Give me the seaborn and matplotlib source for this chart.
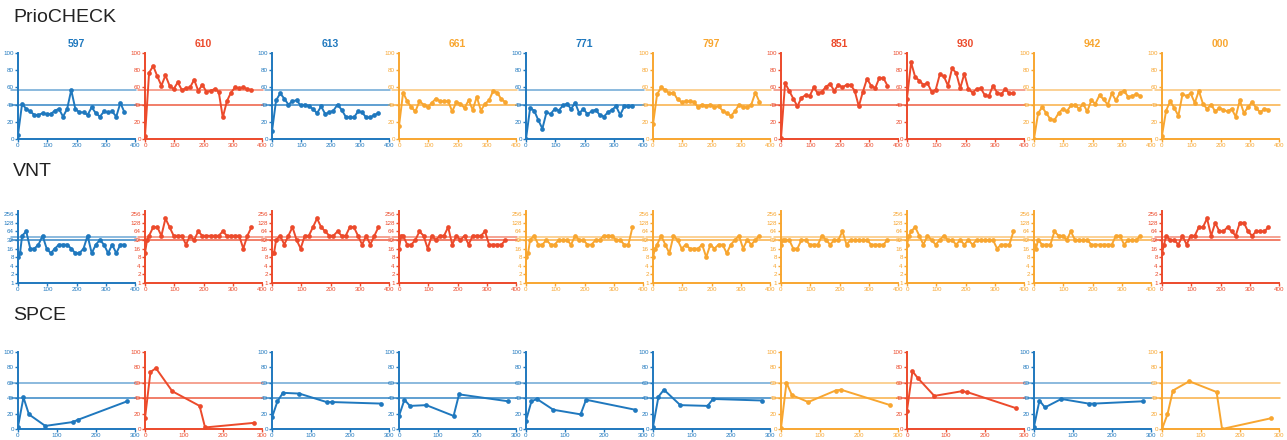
"""Antibody curves per animal: PrioCHECK, VNT and SPCE panels."""
import matplotlib
matplotlib.use("Agg")
import matplotlib.pyplot as plt
import seaborn as sns

BLUE = "#1f78be"
RED = "#ec4a2b"
ORANGE = "#f8a630"

animals = ["597", "610", "613", "661", "771", "797", "851", "930", "942", "000"]

# ---- PrioCHECK (% inhibition) ----
prio_days = [0, 14, 28, 42, 56, 70, 84, 98, 112, 126, 140, 154, 168, 182,
             196, 210, 224, 238, 252, 266, 280, 294, 308, 322, 336, 350, 364]
prio_colors = [BLUE, RED, BLUE, ORANGE, BLUE, ORANGE, RED, RED, ORANGE, ORANGE]
prio_cutoffs = [40, 57.5]

prio_597 = [5, 41, 35, 32, 28, 28, 30, 29, 29, 33, 35, 26, 35, 57,
            35, 31, 31, 28, 37, 30, 26, 32, 31, 32, 26, 42, 31]
prio_610 = [3, 77, 85, 73, 62, 74, 62, 58, 66, 57, 59, 60, 69, 56,
            63, 55, 56, 58, 55, 25, 44, 54, 60, 59, 60, 58, 57]
prio_613 = [9, 45, 53, 47, 40, 44, 45, 39, 40, 38, 35, 30, 38, 29,
            31, 33, 40, 34, 26, 25, 25, 32, 31, 25, 25, 28, 30]
prio_661 = [15, 54, 44, 37, 32, 44, 40, 37, 42, 47, 44, 44, 44, 32,
            43, 41, 36, 45, 34, 49, 33, 41, 45, 56, 54, 46, 43]
prio_771 = [0, 36, 33, 22, 12, 31, 29, 35, 33, 39, 41, 35, 42, 30,
            35, 29, 32, 34, 28, 26, 31, 34, 38, 28, 38, 38, 38]
prio_797 = [17, 52, 60, 57, 53, 54, 46, 43, 44, 44, 43, 37, 40, 38,
            40, 37, 38, 33, 30, 27, 32, 40, 37, 37, 40, 54, 43]
prio_851 = [1, 65, 56, 47, 38, 48, 51, 50, 60, 53, 55, 61, 64, 56,
            63, 60, 63, 63, 56, 38, 55, 70, 62, 59, 71, 71, 62]
prio_930 = [47, 89, 72, 68, 63, 65, 55, 57, 75, 73, 62, 82, 77, 59,
            76, 58, 54, 58, 59, 51, 50, 62, 54, 52, 58, 53, 53]
prio_942 = [0, 30, 37, 30, 23, 22, 30, 35, 32, 39, 40, 35, 41, 32,
            45, 41, 51, 46, 40, 53, 45, 54, 56, 49, 50, 52, 50]
prio_000 = [4, 33, 44, 36, 27, 52, 50, 53, 42, 56, 41, 35, 40, 32,
            36, 34, 32, 35, 26, 45, 30, 37, 43, 36, 31, 35, 34]
prio_values = [prio_597, prio_610, prio_613, prio_661, prio_771,
               prio_797, prio_851, prio_930, prio_942, prio_000]

# ---- VNT (titre, log2) ----
vnt_days = [0, 7, 14, 28, 42, 56, 70, 84, 98, 112, 126, 140, 154, 168,
            182, 196, 210, 224, 238, 252, 266, 280, 294, 308, 322, 336, 350, 364]
vnt_colors = [BLUE, RED, RED, RED, ORANGE, ORANGE, ORANGE, ORANGE, ORANGE, RED]
vnt_cutoffs = [32, 42]

vnt_597 = [8, 11, 45, 64, 16, 16, 22, 45, 16, 11, 16, 22, 22, 22,
           16, 11, 11, 16, 45, 11, 22, 32, 22, 11, 22, 11, 22, 22]
vnt_610 = [11, 32, 45, 90, 90, 45, 181, 90, 45, 45, 45, 22, 45, 32,
           64, 45, 45, 45, 45, 45, 64, 45, 45, 45, 45, 16, 45, 90]
vnt_613 = [11, 11, 32, 45, 22, 45, 90, 32, 16, 45, 45, 90, 181, 90,
           64, 45, 45, 64, 45, 45, 90, 90, 45, 22, 45, 22, 45, 90]
vnt_661 = [16, 45, 45, 22, 22, 32, 64, 45, 16, 45, 32, 45, 45, 90,
           22, 45, 32, 45, 22, 45, 45, 45, 64, 22, 22, 22, 22, 32]
vnt_771 = [8, 11, 32, 45, 22, 22, 32, 22, 22, 32, 32, 32, 22, 45,
           32, 32, 22, 22, 32, 32, 45, 45, 45, 32, 32, 22, 22, 90]
vnt_797 = [8, 16, 22, 45, 22, 11, 45, 32, 16, 22, 16, 16, 16, 22,
           8, 22, 16, 22, 22, 11, 22, 32, 45, 16, 32, 22, 32, 45]
vnt_851 = [22, 32, 32, 32, 16, 16, 32, 32, 22, 22, 22, 45, 32, 22,
           32, 32, 64, 22, 32, 32, 32, 32, 32, 22, 22, 22, 22, 32]
vnt_930 = [22, 45, 64, 90, 45, 22, 45, 32, 22, 32, 45, 32, 32, 22,
           32, 22, 32, 22, 32, 32, 32, 32, 32, 16, 22, 22, 22, 64]
vnt_942 = [22, 16, 32, 22, 22, 22, 64, 45, 45, 32, 64, 32, 32, 32,
           32, 22, 22, 22, 22, 22, 22, 45, 45, 22, 32, 32, 32, 45]
vnt_000 = [11, 22, 45, 32, 32, 22, 45, 22, 45, 45, 90, 90, 181, 45,
           128, 64, 64, 90, 64, 45, 128, 128, 64, 45, 64, 64, 64, 90]
vnt_values = [vnt_597, vnt_610, vnt_613, vnt_661, vnt_771,
              vnt_797, vnt_851, vnt_930, vnt_942, vnt_000]

# ---- SPCE (% inhibition) ----
spce_days = [0, 14, 28, 70, 140, 154, 280]
spce_colors = [BLUE, RED, BLUE, BLUE, BLUE, BLUE, ORANGE, RED, BLUE, ORANGE]
spce_cutoffs = [40, 60]

spce_597 = [3, 41, 19, 4, 9, 12, 36]
spce_610 = [14, 74, 79, 49, 30, 2, 8]
spce_613 = [15, 36, 47, 46, 35, 35, 33]
spce_661 = [17, 38, 30, 31, 17, 45, 36]
spce_771 = [11, 36, 39, 25, 19, 38, 25]
spce_797 = [3, 42, 51, 31, 30, 39, 37]
spce_851 = [1, 60, 44, 35, 50, 51, 31]
spce_930 = [24, 75, 66, 43, 49, 48, 27]
spce_942 = [3, 37, 28, 39, 33, 33, 36]
spce_000 = [0, 19, 50, 62, 48, 0, 14]
spce_values = [spce_597, spce_610, spce_613, spce_661, spce_771,
               spce_797, spce_851, spce_930, spce_942, spce_000]

W, H = 1287, 440
panel_lefts = [18, 145, 272, 399, 526, 653, 781, 907, 1034, 1162]
panel_width = 117


def style_axes(ax, color):
    sns.despine(ax=ax)
    for side in ("left", "bottom"):
        ax.spines[side].set_color(color)
        ax.spines[side].set_linewidth(1.4)
    ax.tick_params(colors=color, labelcolor=color, labelsize=4.5,
                   length=2, width=1, pad=1)
    ax.set_xlabel("")
    ax.set_ylabel("")
    ax.set_facecolor("none")


def cutoff_lines(ax, levels, color):
    for lvl, a in zip(levels, (0.9, 0.65)):
        ax.plot([-0.06, 1.01], [lvl, lvl], transform=ax.get_yaxis_transform(),
                color=color, lw=1.1, alpha=a, clip_on=False, zorder=1)


def draw_panel(ax, days, vals, color, cutoffs):
    cutoff_lines(ax, cutoffs, color)
    sns.lineplot(x=days, y=vals, ax=ax, color=color, marker="o",
                 markersize=3.4, markeredgewidth=0, linewidth=1.4, zorder=3)
    style_axes(ax, color)


def main():
    sns.set_style("ticks")
    plt.rcParams["font.family"] = ["Liberation Sans", "DejaVu Sans"]
    fig = plt.figure(figsize=(W / 100, H / 100), dpi=100)

    def add(left, bottom, top):
        return fig.add_axes([left / W, 1 - bottom / H,
                             panel_width / W, (bottom - top) / H])

    for i, name in enumerate(animals):
        left = panel_lefts[i]

        ax = add(left, 139, 53)
        draw_panel(ax, prio_days, prio_values[i], prio_colors[i], prio_cutoffs)
        ax.set_xlim(0, 400)
        ax.set_ylim(0, 100)
        ax.set_xticks([0, 100, 200, 300, 400])
        ax.set_yticks([0, 20, 40, 60, 80, 100])
        ax.set_title(name, color=prio_colors[i], fontsize=7.5,
                     fontweight="bold", pad=4)

        ax = add(left, 283, 211)
        draw_panel(ax, vnt_days, vnt_values[i], vnt_colors[i], vnt_cutoffs)
        ax.set_yscale("log", base=2)
        ax.set_xlim(0, 400)
        ax.set_ylim(1, 330)
        ax.set_xticks([0, 100, 200, 300, 400])
        ticks = [1, 2, 4, 8, 16, 32, 64, 128, 256]
        ax.set_yticks(ticks)
        ax.set_yticklabels([str(t) for t in ticks])
        ax.minorticks_off()

        ax = add(left, 429, 352)
        draw_panel(ax, spce_days, spce_values[i], spce_colors[i], spce_cutoffs)
        ax.set_xlim(0, 300)
        ax.set_ylim(0, 100)
        ax.set_xticks([0, 100, 200, 300])
        ax.set_yticks([0, 20, 40, 60, 80, 100])

    for label, y in (("PrioCHECK", 18), ("VNT", 172), ("SPCE", 316)):
        fig.text(13 / W, 1 - y / H, label, fontsize=14, va="center",
                 ha="left", color="#222222")

    fig.savefig("out.png", dpi=100)


if __name__ == "__main__":
    main()
